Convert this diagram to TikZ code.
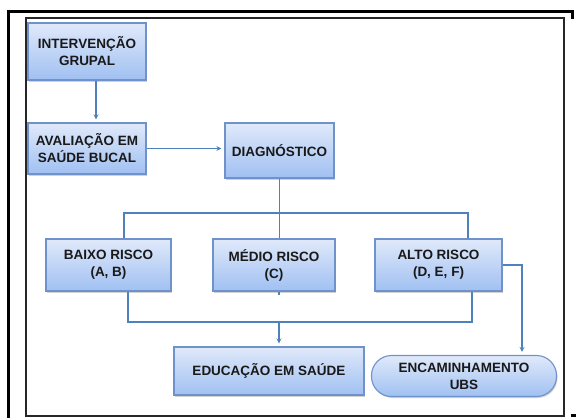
\documentclass[tikz,border=0pt]{standalone}
\usepackage{fontspec}
\setmainfont{Liberation Sans}
\usetikzlibrary{shadows,arrows.meta}
\definecolor{lineblue}{RGB}{79,129,189}
\definecolor{boxborder}{RGB}{112,146,202}
\definecolor{boxtop}{RGB}{224,233,250}
\definecolor{boxbot}{RGB}{160,192,242}
\tikzset{
  box/.style={draw=boxborder, line width=1.1pt, top color=boxtop, bottom color=boxbot,
    align=center, inner sep=0pt, text=black!90,
    font=\fontsize{13.5}{17}\selectfont\bfseries,
    drop shadow={shadow xshift=1pt, shadow yshift=-1.5pt, opacity=0.3, fill=black!60}},
  conn/.style={draw=lineblue, line width=1.1pt},
  arr/.style={conn, -{Stealth[length=5pt,width=5pt]}, shorten >=3pt},
}
\begin{document}
\begin{tikzpicture}[x=1pt,y=-1pt]
\useasboundingbox (0,0) rectangle (576,418);
% frames
\draw[line width=3pt, miter limit=10] (8.5,418) -- (8.5,11) -- (572.5,11) -- (572.5,19);
\draw[line width=2.2pt, black!85] (26,18) rectangle (564,416);
\draw[line width=3pt] (571,415.5) -- (576,415.5);
% boxes
\node[box, minimum width=118pt, minimum height=57pt] (ig) at (87,51.5) {INTERVENÇÃO\\GRUPAL};
\node[box, minimum width=118pt, minimum height=51pt] (av) at (87,148.5) {AVALIAÇÃO EM\\SAÚDE BUCAL};
\node[box, minimum width=109pt, minimum height=55pt] (di) at (279.5,150.5) {DIAGNÓSTICO};
\node[box, minimum width=125pt, minimum height=52pt] (ba) at (108.5,265) {BAIXO RISCO\\(A, B)};
\node[box, minimum width=122pt, minimum height=52pt] (me) at (274,265) {MÉDIO RISCO\\(C)};
\node[box, minimum width=127pt, minimum height=52pt] (al) at (438.5,265) {ALTO RISCO\\(D, E, F)};
\node[box, minimum width=190pt, minimum height=48pt] (ed) at (269,371) {EDUCAÇÃO EM SAÚDE};
\node[box, rounded corners=20pt, minimum width=185pt, minimum height=41pt] (en) at (464,376) {ENCAMINHAMENTO\\UBS};
% helper coordinates
\coordinate (x96) at (96,0);
\coordinate (xbl) at (124,0);
\coordinate (xar) at (468,0);
\coordinate (tj) at (279.5,213);
\coordinate (xbl2) at (128,0);
\coordinate (xar2) at (472,0);
\coordinate (bj) at (279,322);
\coordinate (xen) at (522,0);
% connectors
\draw[arr] (ig.south -| x96) -- (av.north -| x96);
\draw[arr] (av.east) -- (di.west |- av.east);
\draw[conn] (di.south) -- (di.south |- me.north);
\draw[conn] (ba.north -| xbl) |- (tj) -| (al.north -| xar);
\draw[conn] (ba.south -| xbl2) |- (bj) -| (al.south -| xar2);
\draw[conn] (me.south -| bj) -- ++(0,3);
\draw[arr] (bj) -- (ed.north -| bj);
\draw[arr] (al.east) -| (en.north -| xen);
\end{tikzpicture}
\end{document}
